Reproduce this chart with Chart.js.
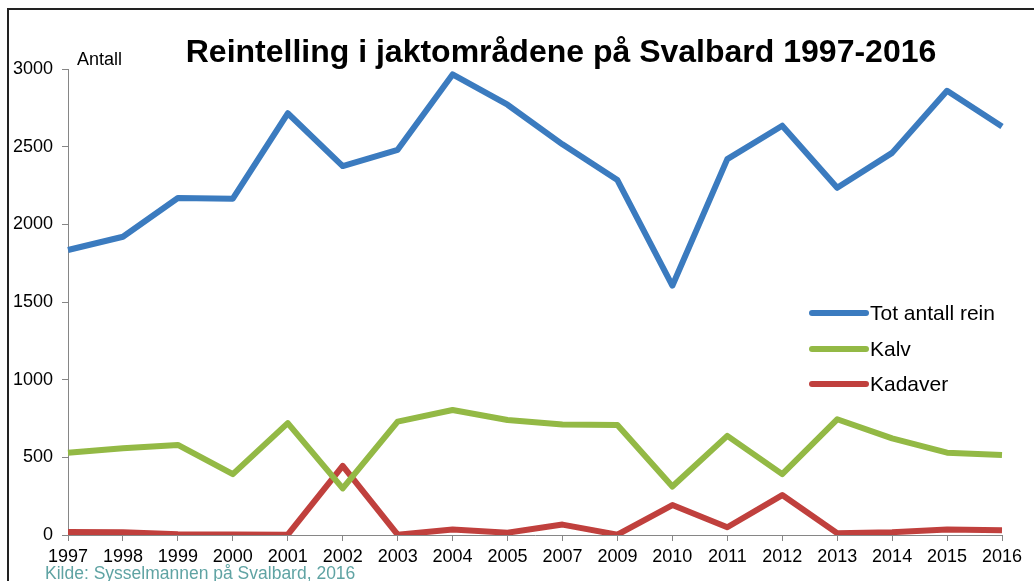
<!DOCTYPE html>
<html>
<head>
<meta charset="utf-8">
<script src="https://cdn.jsdelivr.net/npm/chart.js@4.4.1/dist/chart.umd.min.js"></script>
<style>
  html, body { margin: 0; padding: 0; background: #fff; }
  #wrap { width: 1034px; height: 581px; }
</style>
</head>
<body>
<div id="wrap"><canvas id="reinChart" width="1034" height="581"></canvas></div>
<script>
// Data
const years = ['1997', '1998', '1999', '2000', '2001', '2002', '2003', '2004', '2005',
  '2007', '2009', '2010', '2011', '2012', '2013', '2014', '2015', '2016'];
const totRein = [1835, 1920, 2170, 2165, 2715, 2375, 2480, 2965, 2770,
  2515, 2285, 1605, 2420, 2635, 2235, 2460, 2860, 2630];
const kalv = [530, 558, 580, 392, 720, 300, 730, 805, 740,
  712, 708, 312, 638, 392, 745, 622, 530, 515];
const kadaver = [20, 18, 5, 3, 2, 445, 2, 35, 15,
  67, 2, 193, 50, 257, 12, 18, 36, 30];
const yTicks = [0, 500, 1000, 1500, 2000, 2500, 3000];

const chartTitle = 'Reintelling i jaktområdene på Svalbard 1997-2016';
const yLabel = 'Antall';
const sourceNote = 'Kilde: Sysselmannen på Svalbard, 2016';

const FONT = '"Liberation Sans", Arial, sans-serif';
const AXIS_GREY = '#868686';

// Frame, title, axis caption, source note and the legend block
const decorations = {
  id: 'decorations',
  beforeDraw(chart) {
    const ctx = chart.ctx;
    ctx.save();
    ctx.strokeStyle = '#222';
    ctx.lineWidth = 2;
    ctx.beginPath();
    ctx.moveTo(8, chart.height);
    ctx.lineTo(8, 9);
    ctx.lineTo(chart.width, 9);
    ctx.stroke();
    ctx.restore();
  },
  afterDraw(chart) {
    const ctx = chart.ctx;
    const area = chart.chartArea;
    ctx.save();

    ctx.fillStyle = '#000';
    ctx.textBaseline = 'alphabetic';
    ctx.textAlign = 'center';
    ctx.font = 'bold 32px ' + FONT;
    ctx.fillText(chartTitle, 561, 62);

    ctx.textAlign = 'left';
    ctx.font = '18px ' + FONT;
    ctx.fillText(yLabel, 77, 65);

    ctx.fillStyle = '#5fa3a3';
    ctx.font = '17.5px ' + FONT;
    ctx.fillText(sourceNote, 45, 579);

    // legend
    const lx = area.right - 190;
    const rows = [313, 349, 384];
    ctx.font = '21px ' + FONT;
    ctx.textBaseline = 'middle';
    chart.data.datasets.forEach((ds, i) => {
      const y = rows[i];
      ctx.strokeStyle = ds.borderColor;
      ctx.lineWidth = 6;
      ctx.lineCap = 'round';
      ctx.beginPath();
      ctx.moveTo(lx, y);
      ctx.lineTo(lx + 54, y);
      ctx.stroke();
      ctx.fillStyle = '#000';
      ctx.fillText(ds.label, lx + 58, y + 1);
    });
    ctx.restore();
  }
};

const lineStyle = {
  borderWidth: 6,
  pointRadius: 0,
  pointHoverRadius: 0,
  tension: 0,
  fill: false,
  borderJoinStyle: 'round',
  borderCapStyle: 'butt'
};

new Chart(document.getElementById('reinChart'), {
  type: 'line',
  data: {
    labels: years,
    datasets: [
      Object.assign({ label: 'Tot antall rein', data: totRein, borderColor: '#3b7bbf' }, lineStyle),
      Object.assign({ label: 'Kalv', data: kalv, borderColor: '#93b945' }, lineStyle),
      Object.assign({ label: 'Kadaver', data: kadaver, borderColor: '#c0403d' }, lineStyle)
    ]
  },
  options: {
    responsive: false,
    animation: false,
    events: [],
    layout: { padding: { top: 69, right: 32, bottom: 0, left: 0 } },
    plugins: {
      legend: { display: false },
      title: { display: false },
      tooltip: { enabled: false }
    },
    scales: {
      x: {
        type: 'category',
        offset: false,
        grid: { display: true, drawOnChartArea: false, drawTicks: true, tickLength: 6, color: AXIS_GREY },
        border: { display: true, color: AXIS_GREY, width: 1 },
        ticks: {
          color: '#000',
          font: { family: FONT, size: 18 },
          padding: 5,
          maxRotation: 0,
          autoSkip: false
        },
        afterFit(scale) { scale.height = 46; }
      },
      y: {
        min: 0,
        max: 3000,
        afterBuildTicks(scale) { scale.ticks = yTicks.map(v => ({ value: v })); },
        grid: { display: true, drawOnChartArea: false, drawTicks: true, tickLength: 6, color: AXIS_GREY },
        border: { display: true, color: AXIS_GREY, width: 1 },
        ticks: {
          color: '#000',
          font: { family: FONT, size: 18 },
          padding: 9,
          callback: v => String(v)
        },
        afterFit(scale) { scale.width = 68; }
      }
    }
  },
  plugins: [decorations]
});
</script>
</body>
</html>
